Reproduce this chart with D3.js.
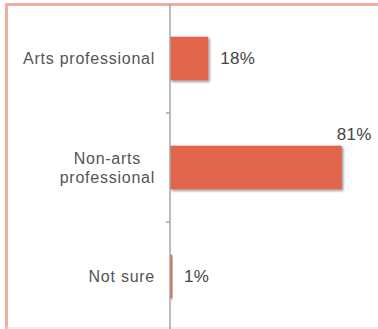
<!DOCTYPE html>
<html>
<head>
<meta charset="utf-8">
<script src="https://cdn.jsdelivr.net/npm/d3@7"></script>
<style>
  html, body { margin: 0; padding: 0; background: #fff; }
  svg { display: block; }
  text { font-family: "Liberation Sans", Arial, sans-serif; }
</style>
</head>
<body>
<script>
// Survey answer categories and their share of respondents (%)
const categories = ["Arts professional", "Non-arts professional", "Not sure"];
const labelLines = [["Arts professional"], ["Non-arts", "professional"], ["Not sure"]];
const values = [18, 81, 1];
const valueLabels = ["18%", "81%", "1%"];

const W = 378, H = 329;
const svg = d3.select("body").append("svg").attr("width", W).attr("height", H);

const defs = svg.append("defs");
const f = defs.append("filter").attr("id", "shadow")
  .attr("x", "-20%").attr("y", "-20%").attr("width", "140%").attr("height", "140%");
f.append("feDropShadow").attr("dx", 1.5).attr("dy", 1.5).attr("stdDeviation", 1)
  .attr("flood-color", "#000").attr("flood-opacity", 0.45);

const axisX = 170;
const x = d3.scaleLinear().domain([0, 100]).range([axisX, axisX + 212]);
const y = d3.scaleBand().domain(categories).range([4, 331])
  .paddingInner(0.6).paddingOuter(0.3);

// Outer frame
svg.append("line").attr("x1", 6.5).attr("x2", 6.5).attr("y1", 3).attr("y2", H)
  .attr("stroke", "#eeb0a3").attr("stroke-width", 3);
svg.append("line").attr("x1", 5).attr("x2", W).attr("y1", 4.5).attr("y2", 4.5)
  .attr("stroke", "#eeb0a3").attr("stroke-width", 3);
svg.append("line").attr("x1", 5).attr("x2", W).attr("y1", 328).attr("y2", 328)
  .attr("stroke", "#f6d2ca").attr("stroke-width", 1);

// Bars
svg.append("g").selectAll("rect").data(categories).join("rect")
  .attr("x", x(0))
  .attr("y", d => y(d))
  .attr("width", (d, i) => x(values[i]) - x(0))
  .attr("height", y.bandwidth())
  .attr("fill", "#e0654b")
  .attr("filter", "url(#shadow)");

// Category axis line and separators between categories
const step = y.step();
const start = y.range()[0];
svg.append("line").attr("x1", axisX).attr("x2", axisX).attr("y1", 4).attr("y2", H)
  .attr("stroke", "#a6a6a6").attr("stroke-width", 1.5);
svg.append("g").selectAll("line").data(d3.range(1, categories.length)).join("line")
  .attr("x1", axisX - 4).attr("x2", axisX)
  .attr("y1", k => start + k * step).attr("y2", k => start + k * step)
  .attr("stroke", "#a6a6a6").attr("stroke-width", 1.5);

// Category labels, multi-line ones centred on their widest line
const labelRight = 155;
const lab = svg.append("g").selectAll("g").data(categories).join("g");
lab.each(function (d, i) {
  const g = d3.select(this);
  const lines = labelLines[i];
  const cy = y(d) + y.bandwidth() / 2;
  const lh = 19;
  const t = g.selectAll("text").data(lines).join("text")
    .attr("y", (l, j) => cy + (j - (lines.length - 1) / 2) * lh)
    .attr("dy", "0.35em")
    .attr("font-size", 16)
    .attr("letter-spacing", 0.75)
    .attr("fill", "#555")
    .text(l => l);
  const widths = t.nodes().map(n => n.getComputedTextLength());
  const maxW = d3.max(widths);
  t.attr("text-anchor", "middle").attr("x", labelRight - maxW / 2);
});

// Value labels
svg.append("g").selectAll("text").data(categories).join("text")
  .attr("x", (d, i) => i === 1 ? x(values[i]) - 5 : x(values[i]) + 12)
  .attr("y", (d, i) => i === 1 ? y(d) - 6 : y(d) + y.bandwidth() / 2)
  .attr("dy", (d, i) => i === 1 ? 0 : "0.35em")
  .attr("font-size", 17)
  .attr("letter-spacing", 0.3)
  .attr("fill", "#444")
  .text((d, i) => valueLabels[i]);
</script>
</body>
</html>
